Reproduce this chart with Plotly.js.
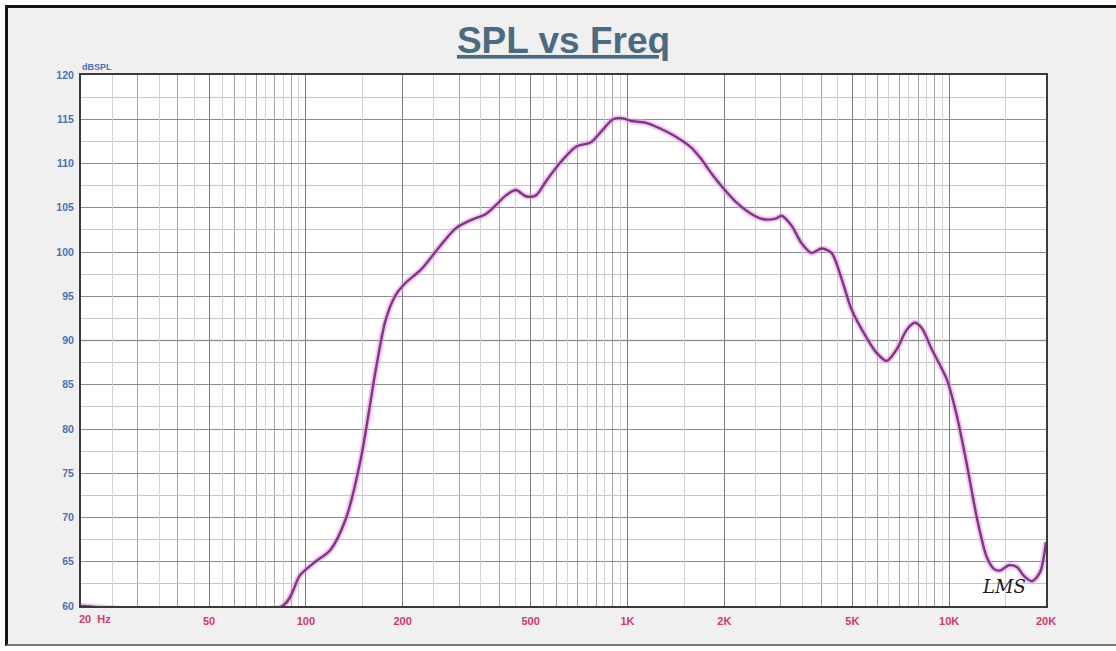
<!DOCTYPE html>
<html>
<head>
<meta charset="utf-8">
<script src="https://cdn.plot.ly/plotly-3.0.1.min.js"></script>
<style>
  html, body { margin:0; padding:0; background:#ffffff; width:1116px; height:651px; overflow:hidden; }
  #frame { position:absolute; left:5px; top:5px; width:1111px; height:641px; background:#f0f0f0;
           border-left:3px solid #151515; border-top:3px solid #151515; border-bottom:2px solid #7a7a7a; box-sizing:border-box; }
  #chart { position:absolute; left:0; top:0; width:1116px; height:651px; }
</style>
</head>
<body>
<div id="frame"></div>
<div id="chart"></div>
<script>
// ---- data ----
const FREQ_HZ = [20, 84.6, 96, 107, 119, 133, 148, 165, 177, 190, 204, 228, 263, 293, 326, 363, 390, 419, 450, 483, 519, 558, 621, 692, 770, 828, 902, 969, 1026, 1143, 1273, 1418, 1579, 1696, 1822, 1986, 2180, 2428, 2646, 2904, 3010, 3234, 3476, 3733, 4010, 4308, 4628, 4972, 5539, 5950, 6393, 6868, 7378, 7815, 8221, 8831, 9833, 10562, 11348, 12190, 13097, 13770, 14380, 15340, 16240, 17080, 18090, 19160, 20000];
const SPL_DB = [60, 60, 63.5, 65, 66.3, 69.8, 76.5, 86.7, 92.3, 95.1, 96.5, 98, 100.8, 102.7, 103.6, 104.3, 105.3, 106.4, 107, 106.3, 106.4, 108, 110.2, 111.9, 112.4, 113.6, 115.0, 115.1, 114.8, 114.6, 113.9, 113, 111.8, 110.5, 108.9, 107.2, 105.6, 104.3, 103.7, 103.8, 104.1, 103, 101, 99.9, 100.4, 99.9, 97, 93.5, 90.3, 88.6, 87.7, 89, 91.2, 92, 91.4, 89, 85.6, 81.5, 76, 70, 65.5, 64.2, 64, 64.6, 64.4, 63.4, 62.8, 63.8, 67.2];

const X_TICK_VALS = [20, 50, 100, 200, 500, 1000, 2000, 5000, 10000, 20000];
const X_TICK_TEXT = ['', '50', '100', '200', '500', '1K', '2K', '5K', '10K', '20K'];
const X_FIRST_LABEL = '20&nbsp;&nbsp;Hz';
const Y_TICK_VALS = [60, 65, 70, 75, 80, 85, 90, 95, 100, 105, 110, 115, 120];
const Y_UNIT = 'dBSPL';
const TITLE = 'SPL vs Freq';
const REF_LEVEL = 90;
const LOGO = 'LMS';

const F_MIN = 20, F_MAX = 20000;
const DECADES = [10, 100, 1000, 10000];
const INT_MULT = [1, 2, 3, 4, 5, 6, 7, 8, 9];
const HALF_MULT = [1.5, 2.5, 3.5, 4.5, 5.5, 6.5, 7.5, 8.5, 9.5];

const inRange = v => v >= F_MIN - 1e-9 && v <= F_MAX + 1e-9;
const intGrid = [], halfGrid = [];
DECADES.forEach(d => {
  INT_MULT.forEach(m => { const v = d * m; if (inRange(v)) intGrid.push(v); });
  HALF_MULT.forEach(m => { const v = d * m; if (inRange(v)) halfGrid.push(v); });
});

const XR = [Math.log10(F_MIN), Math.log10(F_MAX)];

const traces = [
  { x: FREQ_HZ, y: SPL_DB, type: 'scatter', mode: 'lines', hoverinfo: 'skip',
    line: { color: 'rgba(232,150,232,0.55)', width: 6, shape: 'spline', smoothing: 0.8 }, showlegend: false },
  { x: FREQ_HZ, y: SPL_DB, type: 'scatter', mode: 'lines',
    line: { color: '#7f3784', width: 2.4, shape: 'spline', smoothing: 0.8 }, showlegend: false },
  { x: [], y: [], xaxis: 'x2', yaxis: 'y', type: 'scatter', mode: 'lines', showlegend: false }
];

const tickFontX = { family: 'Liberation Sans, Arial, sans-serif', size: 11, color: '#d0386c', weight: 'bold' };
const tickFontY = { family: 'Liberation Sans, Arial, sans-serif', size: 10.5, color: '#4a72b2', weight: 'bold' };

const layout = {
  width: 1116, height: 651,
  margin: { l: 81, r: 70, t: 75, b: 45 },
  paper_bgcolor: 'rgba(0,0,0,0)',
  plot_bgcolor: '#ffffff',
  showlegend: false,
  title: {
    text: TITLE,
    font: { family: 'Liberation Sans, Arial, sans-serif', size: 37, color: '#4b6b83', weight: 'bold', lineposition: 'under' },
    x: 0.5, xref: 'paper', xanchor: 'center',
    y: 1 - 40 / 651, yref: 'container', yanchor: 'middle'
  },
  xaxis: {
    type: 'log', range: XR, fixedrange: true,
    tickmode: 'array', tickvals: X_TICK_VALS, ticktext: X_TICK_TEXT,
    ticks: '', tickfont: tickFontX, ticklabelstandoff: 4,
    showgrid: true, gridcolor: '#7c7c7c', gridwidth: 1,
    minor: { tickmode: 'array', tickvals: intGrid, showgrid: true, gridcolor: '#a4a4a4', gridwidth: 1, ticks: '' },
    showline: true, mirror: true, linecolor: '#3a3a3a', linewidth: 2, zeroline: false
  },
  xaxis2: {
    type: 'log', range: XR, overlaying: 'x', anchor: 'y', fixedrange: true,
    tickmode: 'array', tickvals: halfGrid, showticklabels: false, ticks: '',
    showgrid: true, gridcolor: '#d2d2d2', gridwidth: 1, showline: false, zeroline: false
  },
  yaxis: {
    range: [60, 120], fixedrange: true,
    tickmode: 'array', tickvals: Y_TICK_VALS,
    ticks: '', tickfont: tickFontY, ticklabelstandoff: 3,
    showgrid: true, gridcolor: '#8a8a8a', gridwidth: 1,
    minor: { dtick: 2.5, tick0: 60, showgrid: true, gridcolor: '#c6c6c6', gridwidth: 1, ticks: '' },
    showline: true, mirror: true, linecolor: '#3a3a3a', linewidth: 2, zeroline: false
  },
  shapes: [
    { type: 'line', xref: 'paper', x0: 0, x1: 1, yref: 'y', y0: REF_LEVEL, y1: REF_LEVEL,
      line: { color: '#e6a2e6', width: 1.5 }, layer: 'below' }
  ],
  annotations: [
    { text: Y_UNIT, xref: 'paper', yref: 'paper', x: 0, y: 1, xanchor: 'left', yanchor: 'bottom',
      xshift: -1, yshift: 1, showarrow: false,
      font: { family: 'Liberation Sans, Arial, sans-serif', size: 9, color: '#4a72b2', weight: 'bold' } },
    { text: X_FIRST_LABEL, xref: 'paper', yref: 'paper', x: 0, y: 0, xanchor: 'left', yanchor: 'top',
      xshift: -4, yshift: -5, showarrow: false, font: tickFontX },
    { text: LOGO, xref: 'paper', yref: 'y', x: (1004 - 81) / 965, y: 62.2, xanchor: 'center', yanchor: 'middle',
      showarrow: false, font: { family: 'DejaVu Serif, serif', size: 18, color: '#1a1a1a', style: 'italic' } }
  ]
};

Plotly.newPlot('chart', traces, layout, { displayModeBar: false, staticPlot: true });
</script>
</body>
</html>
